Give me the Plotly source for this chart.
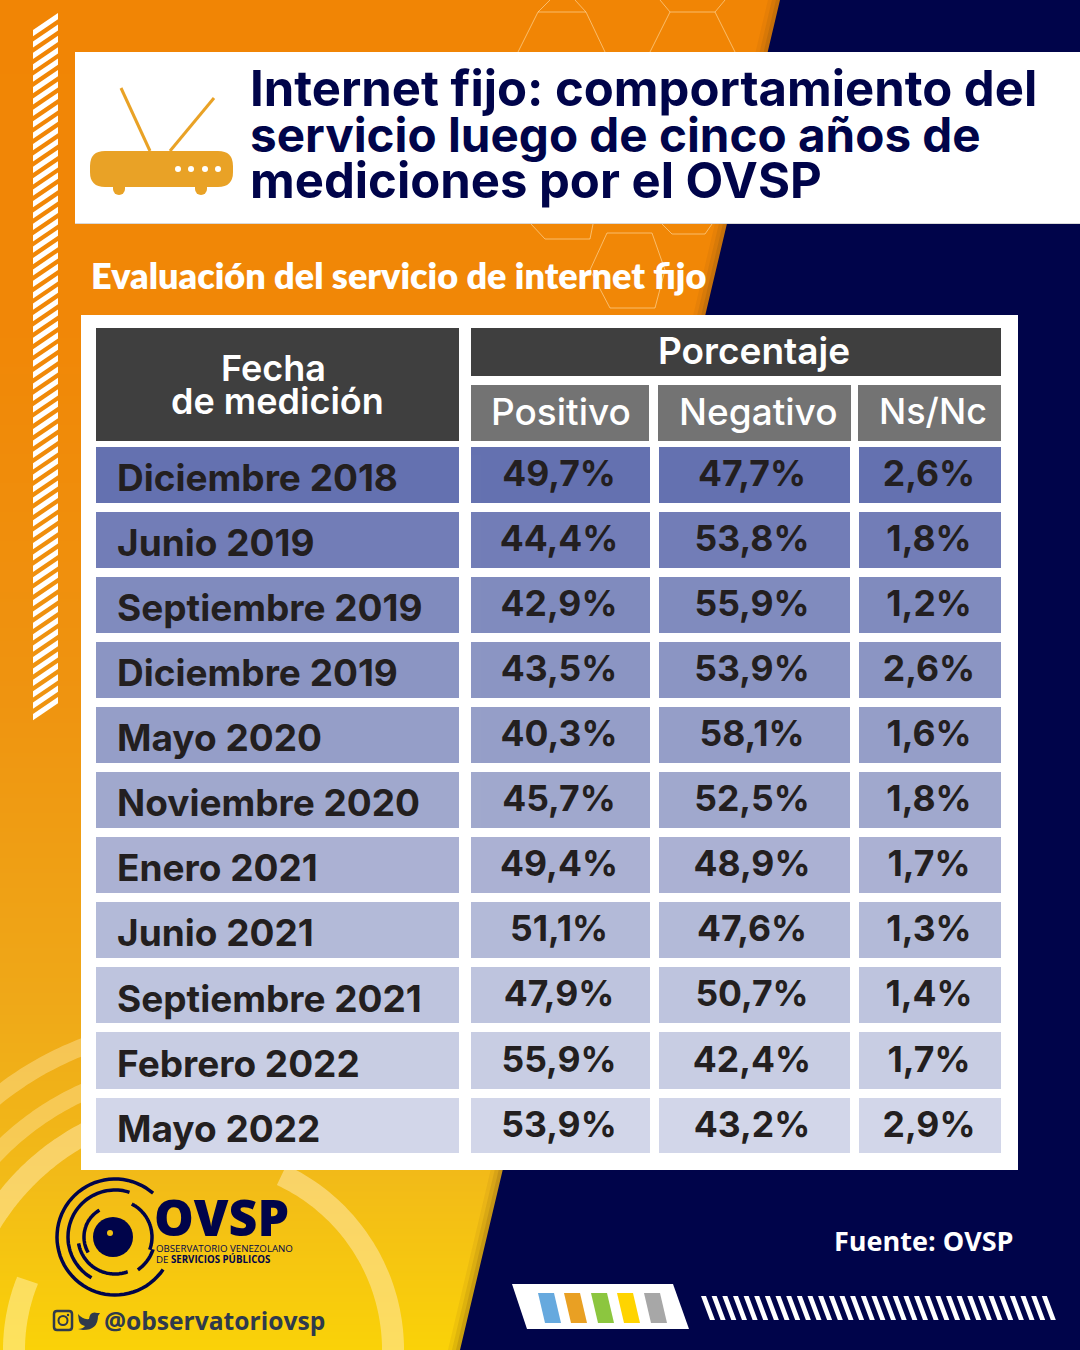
import numpy as np
import plotly.graph_objects as go

# Table data
fechas = ["Diciembre 2018", "Junio 2019", "Septiembre 2019", "Diciembre 2019", "Mayo 2020",
          "Noviembre 2020", "Enero 2021", "Junio 2021", "Septiembre 2021", "Febrero 2022", "Mayo 2022"]
positivo = ["49,7%", "44,4%", "42,9%", "43,5%", "40,3%", "45,7%", "49,4%", "51,1%", "47,9%", "55,9%", "53,9%"]
negativo = ["47,7%", "53,8%", "55,9%", "53,9%", "58,1%", "52,5%", "48,9%", "47,6%", "50,7%", "42,4%", "43,2%"]
ns_nc = ["2,6%", "1,8%", "1,2%", "2,6%", "1,6%", "1,8%", "1,7%", "1,3%", "1,4%", "1,7%", "2,9%"]
row_colors = ["#6471b0", "#727db7", "#808bbe", "#8b95c3", "#959ec8", "#a0a8cd",
              "#abb1d3", "#b3bad8", "#bec4de", "#c8cde3", "#d2d6e9"]
blank = [""] * len(fechas)

NAVY = "#00044a"
TITLE_FONT = "Inter"
CELL_FONT = "Inter"
CLEAR = "rgba(0,0,0,0)"
W, H = 1080, 1350

fig = go.Figure()


def add_text(text, x, y, size, color="white", family=TITLE_FONT, weight=700, anchor="left"):
    fig.add_annotation(x=x, y=y, text=text, showarrow=False, xanchor=anchor, yanchor="middle",
                       font=dict(family=family, size=size, color=color, weight=weight))


def add_poly(points, color):
    path = "M " + " L ".join(f"{a:.1f},{b:.1f}" for a, b in points) + " Z"
    fig.add_shape(type="path", path=path, fillcolor=color, layer="above", line_width=0)


def add_line(points, color, width):
    path = "M " + " L ".join(f"{a:.1f},{b:.1f}" for a, b in points)
    fig.add_shape(type="path", path=path, layer="above", line=dict(color=color, width=width))


def add_rect(x0, y0, x1, y1, color):
    fig.add_shape(type="rect", x0=x0, y0=y0, x1=x1, y1=y1, fillcolor=color, layer="above", line_width=0)


def add_circle(cx, cy, r, color):
    fig.add_shape(type="circle", x0=cx - r, y0=cy - r, x1=cx + r, y1=cy + r,
                  fillcolor=color, layer="above", line_width=0)


def add_arc(cx, cy, r, a0, a1, color, width):
    ang = np.radians(np.linspace(a0, a1, 60))
    add_line(list(zip(cx + r * np.cos(ang), cy + r * np.sin(ang))), color, width)


def wedge(off):
    # navy area minus the table panel, so the table traces stay visible
    edge = lambda y: 780 - off - 320 * y / 1350
    return [(edge(0), 0), (W, 0), (W, H), (edge(H), H), (edge(1170), 1170), (1018, 1170),
            (1018, 315), (edge(315), 315)]


def text_table(values, x0, x1, shift, widths, align, size, weight):
    # plotly writes table text at the top of the row, so the text gets its own table moved down
    fig.add_trace(go.Table(
        domain=dict(x=[x0 / W, x1 / W], y=[1 - (1159 + shift) / H, 1 - (441 + shift) / H]),
        columnwidth=widths,
        header=dict(values=[""] * len(values), height=1, fill_color=CLEAR, line_width=0, font_size=1),
        cells=dict(values=values, height=65.1, align=align, fill_color=CLEAR,
                   line=dict(color=CLEAR, width=0),
                   font=dict(family=CELL_FONT, size=size, color="#231f20", weight=weight)),
    ))


# Background gradient
fig.add_trace(go.Heatmap(x=[0, W], y=[0, 330, 700, 1000, 1180, H],
                         z=[[0, 0], [0.03, 0.03], [0.2, 0.2], [0.45, 0.45], [0.65, 0.65], [1, 1]],
                         zmin=0, zmax=1, zsmooth="best", showscale=False, hoverinfo="skip",
                         colorscale=[[0, "#f18505"], [0.2, "#ef9410"], [0.45, "#efa818"],
                                     [0.65, "#f2bb18"], [1, "#fad208"]]))

# Rings lower left
add_arc(200, H, 193, -65, 5, "rgba(255,232,170,0.55)", 22)
add_arc(200, H, 186, 178, 202, "rgba(255,236,150,0.6)", 22)
add_arc(200, H, 245, 205, 243, "rgba(255,232,170,0.55)", 22)
add_arc(200, H, 283, 200, 247, "rgba(255,232,170,0.42)", 17)
add_arc(200, H, 325, 200, 250, "rgba(255,232,170,0.42)", 17)

# Navy wedge with soft edge
for off, alpha in zip([12, 8, 4], [0.08, 0.12, 0.18]):
    add_poly(wedge(off), f"rgba(110,70,20,{alpha})")
add_poly(wedge(0), NAVY)

# Honeycomb lines
HEX = "rgba(255,225,175,0.6)"
add_line([(550, 0), (538, 12), (586, 12), (575, 0)], HEX, 1)
add_line([(660, 0), (670, 12), (715, 12), (725, 0)], HEX, 1)
add_line([(538, 12), (518, 52)], HEX, 1)
add_line([(586, 12), (605, 52)], HEX, 1)
add_line([(670, 12), (650, 52)], HEX, 1)
add_line([(715, 12), (735, 52)], HEX, 1)
add_line([(607, 233), (652, 233), (665, 270), (655, 308), (610, 308), (590, 270), (607, 233)], HEX, 1)
add_line([(531, 224), (545, 239), (590, 239), (593, 224)], HEX, 1)
add_line([(662, 224), (672, 234), (705, 234), (712, 224)], HEX, 1)

# Diagonal stripes at the left edge
for y in np.arange(13, 700, 11.4):
    add_poly([(33, y + 17), (58, y), (58, y + 6.2), (33, y + 23.2)], "white")

# Title panel
add_rect(75, 52, W, 224, "#d9d9d9")
add_rect(75, 52, W, 223, "white")
add_text("Internet fijo: comportamiento del", 248, 88, 49, NAVY)
add_text("servicio luego de cinco años de", 248, 134, 47.6, NAVY)
add_text("mediciones por el OVSP", 248, 180, 49, NAVY)

# Router icon
ROUTER = "#e9a226"
add_line([(121, 88), (150, 151)], ROUTER, 3)
add_line([(214, 98), (170, 151)], ROUTER, 3)
fig.add_shape(type="path", layer="above", fillcolor=ROUTER, line_width=0,
              path="M 105,151 L 218,151 Q 233,151 233,166 L 233,172 Q 233,187 218,187 "
                   "L 105,187 Q 90,187 90,172 L 90,166 Q 90,151 105,151 Z")
for fx in (119, 201):
    add_rect(fx - 6, 185, fx + 6, 189, ROUTER)
    add_circle(fx, 189, 6, ROUTER)
for dx in (178, 191, 205, 218):
    add_circle(dx, 169, 3, "white")

add_text("Evaluación del servicio de internet fijo", 89, 275, 36, "white", family="Lato", weight=800)

# Table panel, only around the table body because "above" shapes cover table traces
add_rect(81, 315, 1018, 441, "white")
add_rect(81, 441, 96, 1170, "white")
add_rect(1001, 441, 1018, 1170, "white")
add_rect(81, 1153, 1018, 1170, "white")
add_rect(459, 441, 471, 1157, "white")
add_rect(96, 328, 459, 441, "#3f3f3f")
add_rect(471, 328, 1001, 376, "#3f3f3f")
add_rect(471, 385, 649, 441, "#737373")
add_rect(658, 385, 851, 441, "#737373")
add_rect(858, 385, 1001, 441, "#737373")
add_text("Fecha", 273, 368, 36, weight=600, family=CELL_FONT, anchor="center")
add_text("de medición", 277, 401, 36, weight=600, family=CELL_FONT, anchor="center")
add_text("Porcentaje", 754, 350, 37, weight=600, family=CELL_FONT, anchor="center")
add_text("Positivo", 561, 411, 37, weight=500, family=CELL_FONT, anchor="center")
add_text("Negativo", 758, 411, 37, weight=500, family=CELL_FONT, anchor="center")
add_text("Ns/Nc", 933, 411, 36, weight=500, family=CELL_FONT, anchor="center")

# Table body: coloured cells first, then the two text layers
fig.add_trace(go.Table(
    domain=dict(x=[91.5 / W, 1006.5 / W], y=[1 - 1158 / H, 1 - 441 / H]),
    columnwidth=[373.5, 189, 200.5, 152],
    header=dict(values=["", "", "", ""], height=1, fill_color="white", line_width=0, font_size=1),
    cells=dict(values=[blank, blank, blank, blank], height=65.1,
               fill_color=[row_colors] * 4, line=dict(color="white", width=9)),
))
text_table([fechas], 109, 463, 13, [354], ["left"], 37, 700)
text_table([positivo, negativo, ns_nc], 463, 1009, 9, [192, 194, 160], ["center"] * 3, 35.5, 700)

# Logo
add_arc(115, 1237, 58, 34, 311, NAVY, 3.5)
add_arc(115, 1237, 47, 120, 288, NAVY, 3.5)
add_arc(115, 1237, 37, 70, 170, NAVY, 3.5)
add_arc(115, 1237, 37, -63, 20, NAVY, 3.5)
add_arc(115, 1237, 40, 18, 55, NAVY, 3.5)
add_arc(115, 1237, 31, 150, 240, NAVY, 3.5)
add_circle(113, 1237, 20, NAVY)
add_circle(110, 1233, 3, "#f2c010")
add_text("OVSP", 152, 1217, 50, NAVY, family="Open Sans", weight=800)
add_text("OBSERVATORIO VENEZOLANO", 154, 1248, 9.7, NAVY, family="Open Sans", weight=400)
add_text("DE <b>SERVICIOS PÚBLICOS</b>", 154, 1259, 9.7, NAVY, family="Open Sans", weight=400)

# Social handle
HANDLE = "#2f3a4c"
fig.add_shape(type="path", layer="above", line=dict(color=HANDLE, width=2.5),
              path="M 57,1311 L 69,1311 Q 72,1311 72,1314 L 72,1327 Q 72,1330 69,1330 L 57,1330 "
                   "Q 54,1330 54,1327 L 54,1314 Q 54,1311 57,1311 Z")
fig.add_shape(type="circle", x0=58.5, y0=1316, x1=67.5, y1=1325, layer="above",
              line=dict(color=HANDLE, width=2))
add_circle(68, 1315, 1.2, HANDLE)
fig.add_shape(type="path", layer="above", fillcolor=HANDLE, line_width=0,
              path="M 78,1314 Q 83,1320 89,1319 Q 90,1311 97,1313 L 100,1313 L 98,1316 "
                   "Q 98,1330 83,1330 L 78,1329 Q 83,1329 85,1326 Q 80,1325 79,1321 Z")
add_text("@observatoriovsp", 102, 1320, 24.6, HANDLE, family="Open Sans", weight=700)

add_text("Fuente: OVSP", 832, 1240, 27, "white", family="Open Sans", weight=700)

# Flag with colour tabs
add_poly([(512, 1284), (673, 1284), (689, 1329), (527, 1329)], "white")
for x0, col in zip([538, 564, 591, 617, 644], ["#66a9de", "#e9a023", "#8cc63f", "#ffd400", "#a7a7a7"]):
    add_poly([(x0, 1293), (x0 + 16, 1293), (x0 + 23, 1323), (x0 + 7, 1323)], col)

# Stripes bottom right
for i in range(33):
    x0 = 701 + 10.65 * i
    add_poly([(x0, 1296), (x0 + 5, 1296), (x0 + 14, 1320), (x0 + 9, 1320)], "white")

fig.update_xaxes(range=[0, W], visible=False, fixedrange=True)
fig.update_yaxes(range=[H, 0], visible=False, fixedrange=True)
fig.update_layout(width=W, height=H, margin=dict(l=0, r=0, t=0, b=0), showlegend=False,
                  plot_bgcolor=NAVY, paper_bgcolor=NAVY)

fig.write_html("out.html", config={"displayModeBar": False},
               post_script="document.body.style.margin='0';document.body.style.overflow='hidden';")
